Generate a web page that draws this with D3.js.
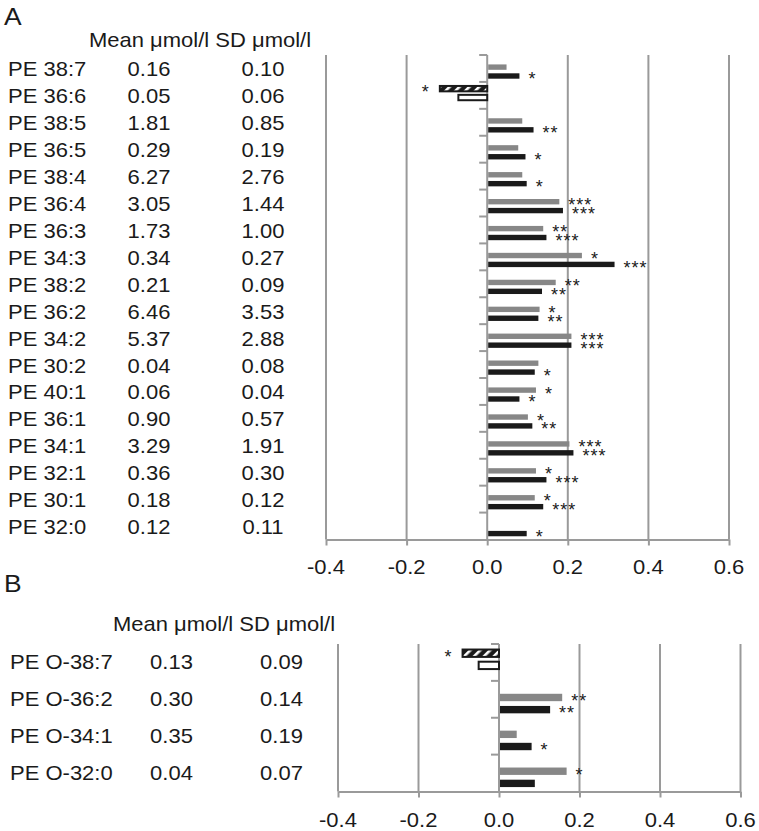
<!DOCTYPE html>
<html><head><meta charset="utf-8">
<script src="https://cdn.jsdelivr.net/npm/d3@7"></script>
<style>body{margin:0;background:#fff}svg{display:block}text{font-family:"Liberation Sans",Arial,sans-serif;fill:#1a1a1a}</style>
</head><body>
<svg id="c" width="759" height="831"></svg>
<script>
// ---------- DATA ----------
const catsA = ["PE 38:7","PE 36:6","PE 38:5","PE 36:5","PE 38:4","PE 36:4","PE 36:3","PE 34:3","PE 38:2","PE 36:2","PE 34:2","PE 30:2","PE 40:1","PE 36:1","PE 34:1","PE 32:1","PE 30:1","PE 32:0"];
const meanA = ["0.16","0.05","1.81","0.29","6.27","3.05","1.73","0.34","0.21","6.46","5.37","0.04","0.06","0.90","3.29","0.36","0.18","0.12"];
const sdA   = ["0.10","0.06","0.85","0.19","2.76","1.44","1.00","0.27","0.09","3.53","2.88","0.08","0.04","0.57","1.91","0.30","0.12","0.11"];
const grayA  = [0.048,-0.120,0.087,0.077,0.087,0.179,0.139,0.235,0.170,0.130,0.209,0.127,0.121,0.101,0.204,0.121,0.118,0];
const blackA = [0.080,-0.074,0.115,0.095,0.098,0.188,0.147,0.316,0.136,0.127,0.209,0.118,0.080,0.112,0.214,0.147,0.139,0.098];
const sigGrayA  = ["","*","","","","***","**","*","**","*","***","","*","*","***","*","*",""];
const sigBlackA = ["*","","**","*","*","***","***","***","**","**","***","*","*","**","***","***","***","*"];

const catsB = ["PE O-38:7","PE O-36:2","PE O-34:1","PE O-32:0"];
const meanB = ["0.13","0.30","0.35","0.04"];
const sdB   = ["0.09","0.14","0.19","0.07"];
const grayB  = [-0.093,0.157,0.044,0.168];
const blackB = [-0.053,0.127,0.081,0.089];
const sigGrayB  = ["*","**","","*"];
const sigBlackB = ["","**","*",""];

const tickValues = [-0.4,-0.2,0.0,0.2,0.4,0.6];
const tickLabels = ["-0.4","-0.2","0.0","0.2","0.4","0.6"];
const header = "Mean μmol/l SD μmol/l";

// ---------- DRAW ----------
const svg = d3.select("#c");
const GRID = "#9a9a9a", GRAY = "#878787", BLACK = "#1a1a1a";
const SX = 1.1;

const defs = svg.append("defs");
const pat = defs.append("pattern").attr("id","hatch").attr("patternUnits","userSpaceOnUse")
  .attr("width",7).attr("height",7).attr("patternTransform","rotate(45)");
pat.append("rect").attr("width",7).attr("height",7).attr("fill",BLACK);
pat.append("rect").attr("x",0).attr("width",2.6).attr("height",7).attr("fill","#fff");

function txt(g, x, y, s, size, anchor){
  return g.append("text").attr("transform",`translate(${x},${y}) scale(${SX},1)`)
    .attr("font-size",size).attr("text-anchor",anchor||"start").text(s);
}

function panel(cfg){
  const g = svg.append("g");
  const x = d3.scaleLinear().domain([-0.4,0.6]).range([cfg.x0, cfg.x1]);
  const y = d3.scaleBand().domain(cfg.cats).range([cfg.top, cfg.bottom]);
  const bw = y.bandwidth();

  txt(g, cfg.letterX, cfg.letterY, cfg.letter, 24);
  txt(g, cfg.headX, cfg.headY, header, 20);

  cfg.cats.forEach((c,i)=>{
    const cy = y(c) + bw/2 + cfg.textDy;
    txt(g, cfg.labX, cy, c, 20);
    txt(g, cfg.meanX, cy, cfg.mean[i], 20, "middle");
    txt(g, cfg.sdX, cy, cfg.sd[i], 20, "middle");
  });

  // grid lines
  g.append("g").selectAll("line").data(tickValues).join("line")
    .attr("x1",d=>x(d)).attr("x2",d=>x(d)).attr("y1",cfg.top).attr("y2",cfg.bottom)
    .attr("stroke",GRID).attr("stroke-width",2);

  // category ticks on zero axis
  g.append("g").selectAll("line").data(cfg.cats).join("line")
    .attr("x1",x(0)-8).attr("x2",x(0)).attr("y1",d=>y(d)).attr("y2",d=>y(d))
    .attr("stroke",GRID).attr("stroke-width",2);

  // x axis
  const ax = g.append("g").attr("transform",`translate(0,${cfg.bottom})`)
    .call(d3.axisBottom(x).tickValues(tickValues).tickFormat((d,i)=>tickLabels[i]).tickSize(6).tickSizeOuter(0));
  ax.select(".domain").attr("stroke",GRID).attr("stroke-width",2);
  ax.selectAll(".tick line").attr("stroke",GRID).attr("stroke-width",2);
  ax.selectAll(".tick text").remove();
  tickValues.forEach((d,i)=>txt(g, x(d), cfg.bottom + cfg.tickDy, tickLabels[i], 20, "middle"));

  // bars
  const series = [
    {vals: cfg.gray, sig: cfg.sigGray, off: 0.35, fill: GRAY, neg: "hatch"},
    {vals: cfg.black, sig: cfg.sigBlack, off: 0.68, fill: BLACK, neg: "open"}
  ];
  const bh = bw*0.2;
  series.forEach(s=>{
    cfg.cats.forEach((c,i)=>{
      const v = s.vals[i];
      const neg = v < 0;
      const yy = y(c) + bw*s.off - (neg ? bw*0.2 : 0);
      const xa = x(Math.min(0,v)), xb = x(Math.max(0,v));
      if (v !== 0) {
        const r = g.append("rect").attr("x", xa+1).attr("y",yy)
          .attr("width", Math.max(0, xb-xa-1)).attr("height",bh);
        if (!neg) r.attr("fill", s.fill);
        else if (s.neg === "hatch") r.attr("fill","url(#hatch)").attr("stroke",BLACK).attr("stroke-width",2);
        else r.attr("fill","#fff").attr("stroke",BLACK).attr("stroke-width",2);
      }
      if (s.sig[i]) {
        const t = g.append("text").attr("font-size",18).attr("letter-spacing",1).attr("fill","#222")
          .attr("y", yy + bh/2 + 9.5)
          .text(s.sig[i]);
        if (neg) t.attr("x", xa - 9).attr("text-anchor","end");
        else t.attr("x", xb + 9);
      }
    });
  });
}

panel({
  cats: catsA, mean: meanA, sd: sdA, gray: grayA, black: blackA, sigGray: sigGrayA, sigBlack: sigBlackA,
  x0: 326, x1: 729, top: 55, bottom: 539.5,
  letter: "A", letterX: 4, letterY: 25, headX: 89, headY: 47,
  labX: 8, meanX: 149, sdX: 263, textDy: 8, tickDy: 34
});
panel({
  cats: catsB, mean: meanB, sd: sdB, gray: grayB, black: blackB, sigGray: sigGrayB, sigBlack: sigBlackB,
  x0: 338, x1: 740.5, top: 644, bottom: 791.5,
  letter: "B", letterX: 4, letterY: 592, headX: 113, headY: 631,
  labX: 10, meanX: 171.5, sdX: 281.5, textDy: 7, tickDy: 35
});
</script>
</body></html>
